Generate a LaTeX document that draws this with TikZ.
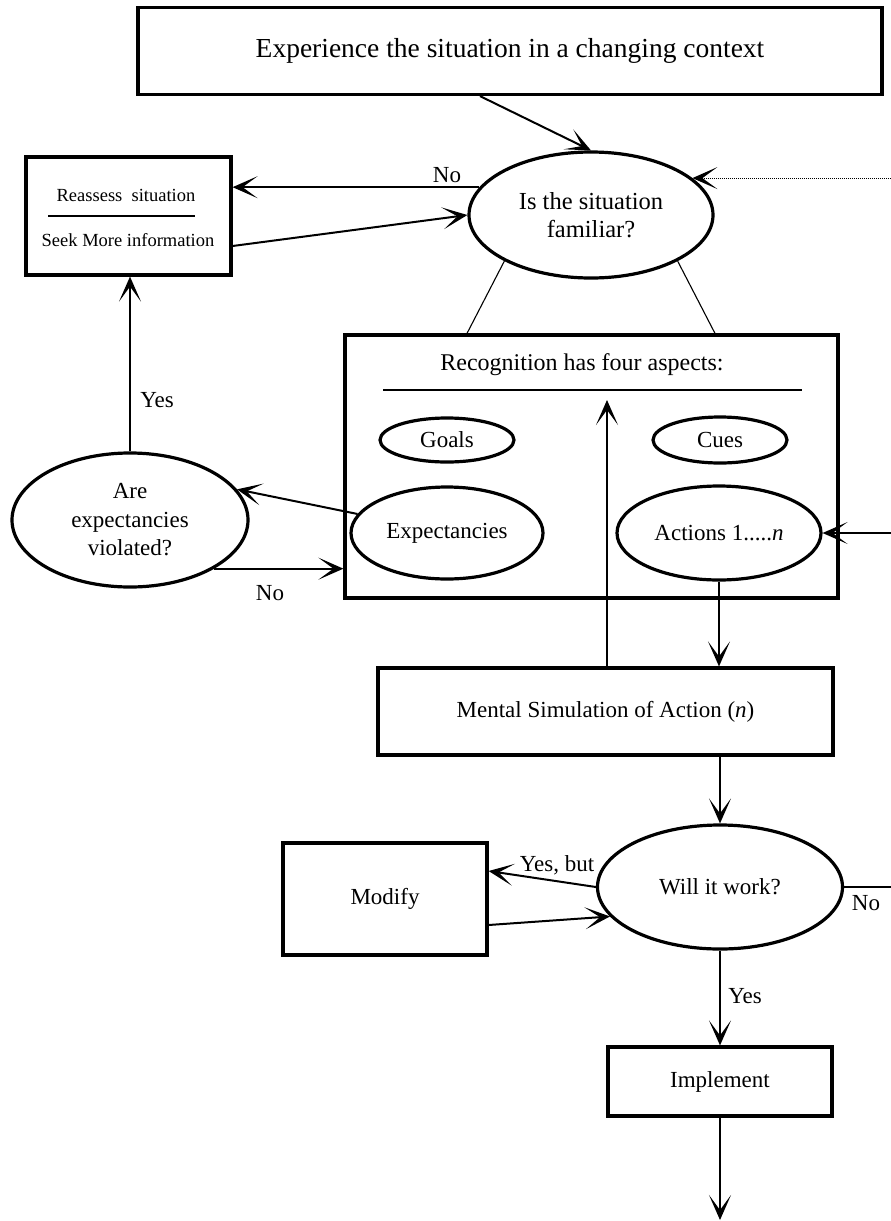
\documentclass[tikz,border=0pt]{standalone}
\usepackage{fontspec}
\setmainfont{Liberation Serif}
\usetikzlibrary{shapes.geometric,arrows.meta}
\begin{document}
\begin{tikzpicture}[x=1pt,y=-1pt,
  box/.style={draw,line width=3.2pt,rectangle,inner sep=0pt},
  oval/.style={draw,line width=3.2pt,ellipse,inner sep=0pt},
  txt/.style={font=\fontsize{23}{28.5}\selectfont,inner sep=0pt,align=center},
  small/.style={font=\fontsize{18.5}{22}\selectfont,inner sep=0pt},
  barbtip/.tip={Stealth[length=25pt,width=22pt,inset=15pt,line width=1.6pt]},
  arr/.style={line width=2pt,-barbtip},
  thinline/.style={line width=1.1pt},
  rule/.style={line width=1.7pt},
  lbl/.style={font=\fontsize{23}{27}\selectfont,inner sep=0pt}]
\useasboundingbox (0,0) rectangle (891,1221);
\coordinate (rightedge) at (891,0);
% nodes
\node[box,minimum width=744pt,minimum height=87pt,font=\fontsize{27.5}{30}\selectfont] (top) at (510,51) {Experience the situation in a changing context};
\node[oval,txt,font=\fontsize{24.5}{28.5}\selectfont,minimum width=244pt,minimum height=126pt] (fam) at (591,215) {Is the situation\\familiar?};
\node[box,minimum width=205pt,minimum height=118pt] (reas) at (128.5,216) {};
\node[small] (reas1) at (126,195) {Reassess\ \ situation};
\draw[rule] (48,216) -- (195,216);
\node[small] (reas2) at (128,240) {Seek More information};
\node[box,minimum width=493pt,minimum height=263pt] (rec) at (591.5,466.5) {};
\node[txt,font=\fontsize{24}{28}\selectfont] (rectitle) at (582,365) {Recognition has four aspects:};
\draw[rule] (383,390) -- (802,390);
\node[oval,txt,minimum width=134pt,minimum height=44pt] (goals) at (447,440) {Goals};
\node[oval,txt,minimum width=134pt,minimum height=46pt] (cues) at (720,440) {Cues};
\node[oval,txt,minimum width=192pt,minimum height=92pt] (exp) at (447,533) {Expectancies};
\node[oval,txt,minimum width=204pt,minimum height=94pt] (act) at (719,533) {Actions 1.....\textit{n}};
\node[oval,txt,minimum width=236pt,minimum height=134pt] (are) at (130,520) {Are\\expectancies\\violated?};
\node[box,txt,minimum width=455pt,minimum height=87pt] (sim) at (605.5,711.5) {Mental Simulation of Action (\textit{n})};
\node[oval,txt,minimum width=245pt,minimum height=124pt] (work) at (720,887) {Will it work?};
\node[box,txt,minimum width=204pt,minimum height=112pt] (mod) at (385,899) {Modify};
\node[box,txt,minimum width=224pt,minimum height=69pt] (impl) at (720,1081.5) {Implement};
% coordinates
\coordinate (dotstart) at (fam.20 -| rightedge);
\coordinate (uptip) at (607,400);
\coordinate (actin) at (act.east -| rightedge);
\coordinate (noend) at (work.east -| rightedge);
\coordinate (bottomend) at (720,1220);
% connectors
\draw[arr] ([xshift=-30pt]top.south) -- (fam.north);
\draw[arr] (fam.166) -- (fam.166 -| reas.east);
\draw[arr] ([yshift=-30pt]reas.east) -- (fam.west);
\draw[thinline] (fam.208) -- ([xshift=-124.5pt]rec.north);
\draw[thinline] (fam.332) -- ([xshift=123.5pt]rec.north);
\draw[arr,line width=1pt,densely dotted] (dotstart) -- (fam.20);
\draw[arr] (sim.north -| uptip) -- (uptip);
\draw[arr] (act.south) -- (act.south |- sim.north);
\draw[arr] (actin) -- (act.east);
\draw[arr] (exp.168) -- (are.16);
\draw[arr] (are.-30) -- (are.-30 -| rec.west);
\draw[arr] (are.north) -- (are.north |- reas.south);
\draw[arr] (sim.south -| work.north) -- (work.north);
\draw[arr] (work.west) -- ([yshift=28pt]mod.east);
\draw[arr] ([yshift=-26pt]mod.east) -- (work.195);
\draw[line width=2pt] (work.east) -- (noend);
\draw[arr] (work.south) -- (impl.north);
\draw[arr] (impl.south) -- (bottomend);
% labels
\node[lbl] (lno1) at (447,175) {No};
\node[lbl] (lyes1) at (157,400) {Yes};
\node[lbl] (lno2) at (270,593) {No};
\node[lbl] (lyb) at (557,865) {Yes, but};
\node[lbl] (lno3) at (866,903) {No};
\node[lbl] (lyes2) at (745,996) {Yes};
\end{tikzpicture}
\end{document}
